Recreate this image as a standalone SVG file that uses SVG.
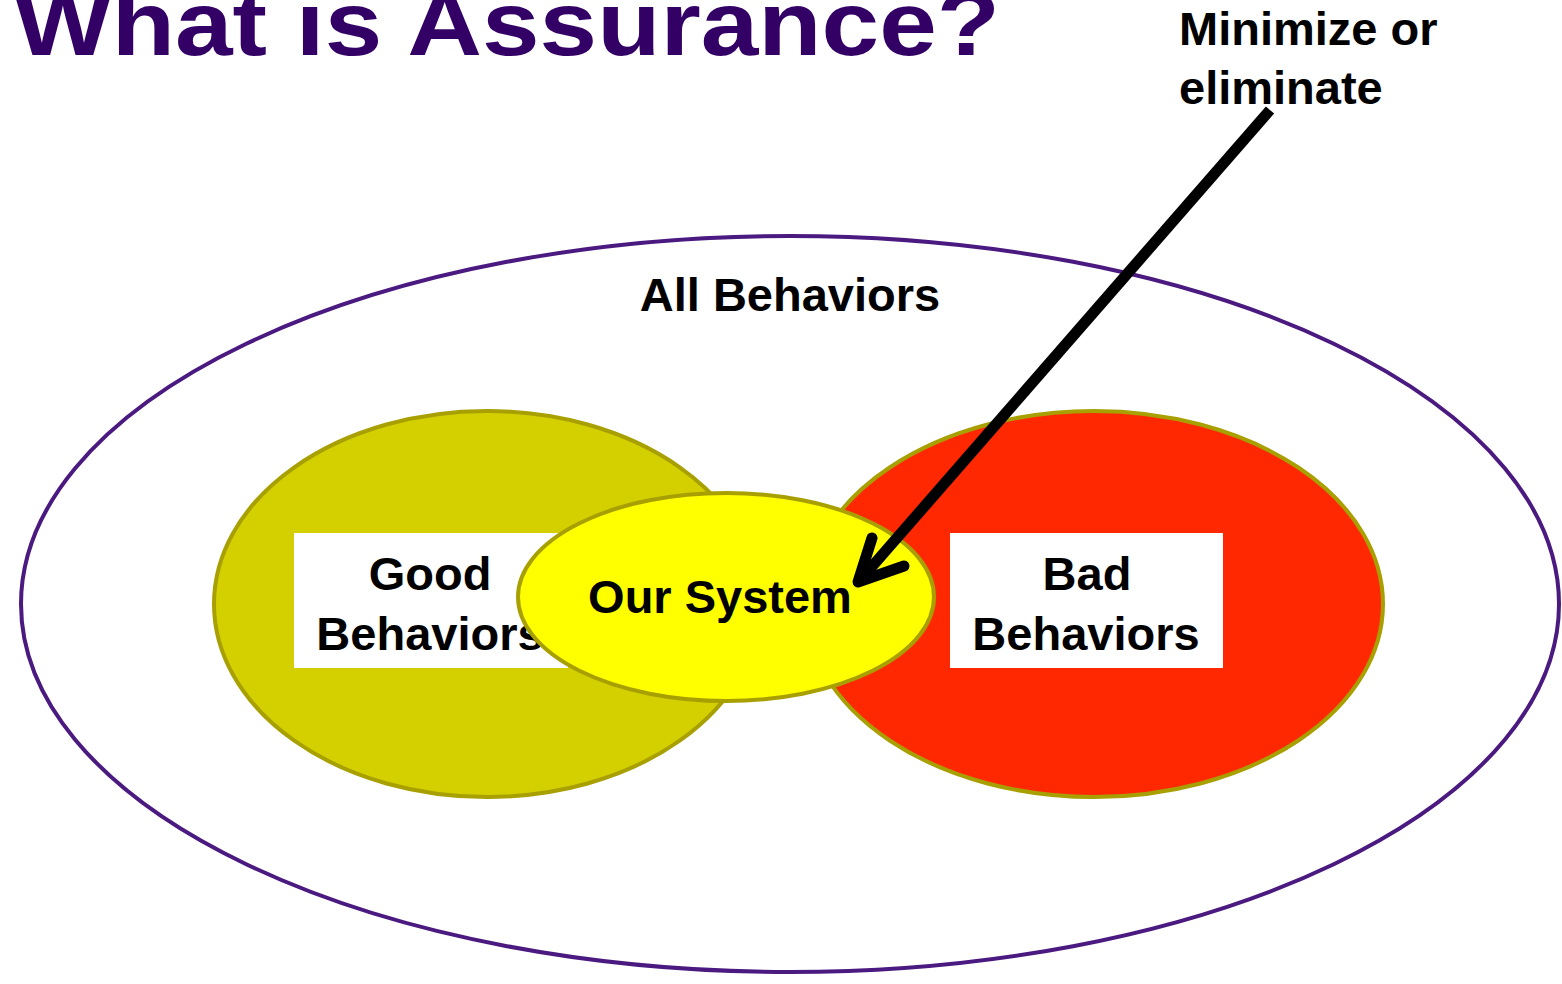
<svg xmlns="http://www.w3.org/2000/svg" width="1562" height="984" viewBox="0 0 1562 984">
<style>
.t{font-family:"Liberation Sans",Arial,sans-serif;font-weight:bold;fill:#000}
.lbl{font-size:47px;text-anchor:middle}
.sub{stroke:#A8A000;stroke-width:4}
</style>
<rect width="1562" height="984" fill="#fff"/>
<text class="t" x="14" y="55" font-size="90" style="fill:#330066" textLength="986" lengthAdjust="spacingAndGlyphs">What is Assurance?</text>
<g id="all">
<ellipse cx="790" cy="604" rx="769" ry="368" fill="#fff" stroke="#4B1A80" stroke-width="4"/>
<text class="t lbl" x="790" y="311">All Behaviors</text>
</g>
<g id="good">
<ellipse class="sub" cx="487" cy="604" rx="273" ry="193" fill="#D4D000"/>
<rect x="294" y="533" width="274" height="135" fill="#fff"/>
<text class="t lbl" x="430" y="590">Good</text>
<text class="t lbl" x="430" y="650">Behaviors</text>
</g>
<g id="bad">
<ellipse class="sub" cx="1094" cy="604" rx="289" ry="193" fill="#FF2800"/>
<rect x="950" y="533" width="273" height="135" fill="#fff"/>
<text class="t lbl" x="1087" y="590">Bad</text>
<text class="t lbl" x="1086" y="650">Behaviors</text>
</g>
<g id="system">
<ellipse class="sub" cx="726" cy="597" rx="208" ry="104" fill="#FFFF00"/>
<text class="t lbl" x="720" y="613">Our System</text>
</g>
<g id="note">
<text class="t" x="1179" y="45" font-size="47">Minimize or</text>
<text class="t" x="1179" y="104" font-size="47">eliminate</text>
</g>
<g id="connectors" stroke="#000" stroke-width="11" fill="none">
<line x1="1270" y1="110" x2="862" y2="578"/>
<polyline points="872,538 858,582 904,566" stroke-linecap="round" stroke-linejoin="round"/>
</g>
</svg>
